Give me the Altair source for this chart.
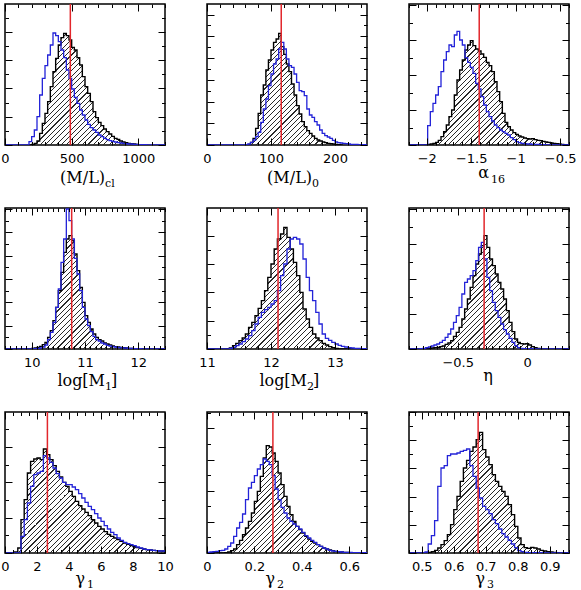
import math
import altair as alt
import pandas as pd

# Plot area of one panel (px) and the common height scale of the histograms
PW, PH = 160, 141
YTOP = 423

BLUE = "#2323d8"
RED = "#e2262b"
SANS = "DejaVu Sans"
SERIF = "DejaVu Serif"

# ---------------------------------------------------------------- data
# Each histogram: first bin edge, bin width, counts per bin.
# (M/L)_cl
mlcl_domain = [0, 1200]
mlcl_best = 490
mlcl_bin = 20
mlcl_black_start = 180
mlcl_black = [0, 2, 5, 12, 35, 65, 95, 130, 175, 220, 260, 300, 322, 335, 328, 315, 293, 285,
              262, 240, 205, 175, 155, 130, 100, 82, 68, 58, 48, 40, 33, 26, 20, 17, 12, 9, 7,
              5, 4, 3, 2, 1, 1, 0]
mlcl_blue_start = 0
mlcl_blue = [0, 0, 0, 0, 0, 0, 0, 0, 0, 10, 25, 45, 85, 150, 200, 238, 270, 300, 336, 328, 310,
             285, 262, 225, 200, 168, 143, 125, 105, 90, 75, 62, 52, 45, 38, 30, 25, 20, 16, 13,
             11, 9, 7, 6, 5, 4, 3, 3, 2, 2, 1, 1, 1, 0, 0, 0, 0, 0, 0, 0]

# (M/L)_0
ml0_domain = [0, 250]
ml0_best = 116
ml0_bin = 4
ml0_black_start = 60
ml0_black = [0, 2, 8, 20, 50, 95, 150, 180, 225, 255, 285, 308, 318, 335, 295, 272, 243, 220,
             183, 150, 118, 93, 70, 55, 43, 35, 27, 20, 15, 12, 9, 7, 5, 4, 3, 2, 1, 0]
ml0_blue_start = 0
ml0_blue = [0, 0, 0, 0, 0, 0, 0, 0, 0, 0, 0, 0, 0, 0, 0, 1, 3, 8, 15, 25, 38, 68, 108, 138,
            178, 213, 243, 258, 288, 308, 288, 258, 238, 233, 213, 188, 163, 160, 148, 108, 90,
            83, 70, 60, 45, 35, 28, 24, 20, 14, 9, 7, 6, 5, 4, 3, 2, 2, 2, 1, 1, 1, 0]

# alpha_16
a16_domain = [-2.2, -0.4]
a16_best = -1.41
a16_bin = 0.03
a16_black_start = -2.2
a16_black = [0, 0, 0, 0, 0, 0, 1, 2, 3, 5, 8, 14, 25, 40, 60, 85, 105, 150, 195, 225, 255,
             285, 300, 313, 298, 288, 282, 273, 263, 248, 238, 220, 190, 160, 130, 95, 68, 55,
             45, 37, 32, 27, 24, 21, 19, 18, 19, 16, 14, 13, 11, 9, 8, 6, 5, 4, 3, 2, 1, 0]
a16_blue_start = -2.2
a16_blue = [0, 0, 0, 0, 0, 0, 0, 58, 100, 125, 150, 175, 220, 255, 280, 300, 295, 330, 341,
            315, 300, 262, 248, 233, 215, 185, 168, 145, 120, 100, 85, 72, 60, 52, 45, 40, 35,
            30, 22, 16, 10, 7, 5, 4, 3, 3, 2, 2, 2, 1, 1, 0, 0, 0, 0, 0, 0, 0, 0, 0]

# log[M_1]
m1_domain = [9.5, 12.5]
m1_best = 10.75
m1_bin = 0.05
m1_black_start = 9.5
m1_black = [0, 0, 0, 0, 0, 0, 0, 0, 0, 1, 2, 3, 5, 8, 13, 20, 35, 55, 85, 125, 175, 230, 290,
            330, 340, 325, 285, 235, 185, 140, 100, 80, 60, 45, 35, 28, 24, 18, 15, 12, 9, 7, 6,
            5, 4, 3, 2, 2, 1, 1, 0, 0, 0, 0, 0, 0, 0, 0, 0, 0]
m1_blue_start = 9.5
m1_blue = [0, 0, 0, 0, 0, 0, 0, 0, 0, 0, 0, 1, 2, 3, 6, 12, 28, 50, 80, 125, 180, 260, 330,
           420, 385, 330, 272, 225, 175, 125, 90, 70, 52, 38, 28, 24, 18, 15, 11, 9, 7, 6, 5, 4,
           3, 3, 2, 2, 1, 1, 1, 0, 0, 0, 0, 0, 0, 0, 0, 0]

# log[M_2]
m2_domain = [11, 13.5]
m2_best = 12.11
m2_bin = 0.05
m2_black_start = 11
m2_black = [0, 0, 0, 0, 0, 0, 1, 3, 10, 17, 25, 33, 45, 65, 80, 100, 122, 145, 175, 215, 255,
            300, 330, 345, 365, 335, 300, 260, 220, 170, 120, 90, 65, 45, 33, 25, 17, 12, 7, 4,
            2, 0, 0, 0, 0, 0, 0, 0, 0, 0]
m2_blue_start = 11
m2_blue = [0, 0, 0, 0, 0, 0, 0, 2, 5, 10, 15, 22, 30, 40, 55, 75, 95, 110, 118, 125, 135, 145,
           175, 220, 255, 300, 330, 335, 330, 315, 270, 215, 175, 145, 110, 75, 45, 32, 26, 20,
           15, 11, 8, 6, 4, 3, 2, 2, 1, 1]

# eta
eta_domain = [-0.85, 0.3]
eta_best = -0.31
eta_bin = 0.02
eta_black_start = -0.85
eta_black = [0, 0, 0, 0, 0, 0, 1, 2, 3, 4, 5, 7, 9, 14, 18, 25, 38, 50, 65, 90, 120, 150, 185,
             220, 255, 285, 310, 340, 305, 270, 250, 225, 200, 180, 150, 115, 80, 52, 30, 20,
             16, 15, 16, 12, 7, 4, 2, 1, 0, 0, 0, 0, 0, 0, 0, 0, 0, 0]
eta_blue_start = -0.85
eta_blue = [0, 0, 0, 0, 1, 2, 4, 6, 9, 12, 15, 20, 26, 35, 45, 60, 80, 100, 125, 165, 200, 210,
            220, 235, 265, 305, 320, 270, 215, 175, 140, 115, 95, 75, 58, 45, 32, 20, 10, 4, 2,
            1, 1, 1, 1, 0, 0, 0, 0, 0, 0, 0, 0, 0, 0, 0, 0, 0]

# gamma_1
g1_domain = [0, 10]
g1_best = 2.65
g1_bin = 0.2
g1_black_start = 0
g1_black = [0, 0, 0, 3, 15, 100, 160, 240, 275, 282, 285, 280, 312, 295, 280, 262, 245, 228,
            212, 200, 185, 170, 155, 142, 132, 122, 112, 100, 90, 80, 72, 64, 56, 50, 45, 40,
            35, 30, 26, 22, 19, 16, 14, 12, 10, 9, 8, 7, 6, 6]
g1_blue_start = 0
g1_blue = [0, 0, 0, 0, 0, 50, 100, 150, 200, 235, 240, 245, 292, 285, 272, 255, 238, 225, 212,
           205, 205, 198, 190, 178, 165, 152, 140, 130, 118, 105, 95, 82, 72, 62, 55, 45, 38, 32,
           28, 25, 22, 18, 15, 12, 10, 9, 8, 7, 6, 6]

# gamma_2
g2_domain = [0, 0.675]
g2_best = 0.278
g2_bin = 0.0125
g2_black_start = 0
g2_black = [0, 0, 0, 0, 0, 0, 1, 3, 7, 12, 25, 38, 55, 75, 95, 120, 155, 185, 230, 285, 322,
            318, 300, 275, 240, 205, 170, 140, 115, 95, 80, 70, 60, 50, 42, 35, 30, 25, 20, 15,
            12, 9, 7, 5, 4, 3, 2, 2, 1, 0, 0, 0, 0, 0]
g2_blue_start = 0
g2_blue = [2, 3, 4, 5, 7, 8, 12, 20, 30, 50, 75, 92, 117, 160, 195, 212, 232, 252, 265, 282,
           275, 265, 232, 192, 160, 137, 120, 105, 95, 87, 80, 72, 62, 52, 45, 38, 32, 25, 20,
           15, 12, 8, 6, 5, 4, 3, 2, 2, 2, 1, 1, 1, 1, 1]

# gamma_3
g3_domain = [0.46, 0.96]
g3_best = 0.676
g3_bin = 0.01
g3_black_start = 0.46
g3_black = [0, 0, 0, 0, 0, 1, 2, 4, 8, 15, 25, 37, 55, 85, 130, 170, 215, 255, 278, 305, 318,
            340, 362, 310, 288, 265, 235, 215, 200, 185, 170, 145, 115, 80, 45, 25, 16, 14, 17,
            15, 12, 8, 6, 4, 3, 2, 1, 0, 0, 0]
g3_blue_start = 0.46
g3_blue = [0, 0, 0, 0, 0, 3, 27, 52, 97, 200, 255, 262, 292, 297, 297, 300, 305, 308, 312, 262,
           230, 195, 165, 140, 130, 118, 100, 88, 72, 58, 48, 38, 27, 16, 7, 4, 2, 1, 1, 1, 1, 1,
           0, 0, 0, 0, 0, 0, 0, 0]

# ---------------------------------------------------------------- axes / titles
# x: labelled major step, minor step; y: minor tick step (major every second one)
AXES = [
    dict(major=500, minor=100, ystep=42.4),
    dict(major=100, minor=20, ystep=32.6),
    dict(major=0.5, minor=0.1, ystep=52.5),
    dict(major=1, minor=0.1, ystep=35.0),
    dict(major=1, minor=0.2, ystep=42.5),
    dict(major=0.5, minor=0.05, ystep=52.5),
    dict(major=2, minor=0.5, ystep=53.0),
    dict(major=0.2, minor=0.05, ystep=46.7),
    dict(major=0.1, minor=0.02, ystep=42.3),
]

# axis titles: (text, align, x within panel, baseline below plot, font size)
TITLES = [
    [("(M/L)", "right", 100, 38, 16), ("cl", "left", 100, 42, 11)],
    [("(M/L)", "right", 105, 38, 16), ("0", "left", 105, 42, 11)],
    [("α", "right", 80, 33, 16), ("16", "left", 82, 38, 11)],
    [("log[M", "right", 100, 37, 16), ("1", "left", 100, 41, 11), ("]", "left", 106, 37, 16)],
    [("log[M", "right", 100, 37, 16), ("2", "left", 100, 41, 11), ("]", "left", 106, 37, 16)],
    [("η", "center", 79, 32, 16)],
    [("γ", "right", 80, 31, 16), ("1", "left", 82, 35, 11)],
    [("γ", "right", 68, 31, 16), ("2", "left", 70, 35, 11)],
    [("γ", "right", 76, 31, 16), ("3", "left", 78, 35, 11)],
]

PANELS = [
    (mlcl_domain, mlcl_best, mlcl_bin, mlcl_black_start, mlcl_black, mlcl_blue_start, mlcl_blue),
    (ml0_domain, ml0_best, ml0_bin, ml0_black_start, ml0_black, ml0_blue_start, ml0_blue),
    (a16_domain, a16_best, a16_bin, a16_black_start, a16_black, a16_blue_start, a16_blue),
    (m1_domain, m1_best, m1_bin, m1_black_start, m1_black, m1_blue_start, m1_blue),
    (m2_domain, m2_best, m2_bin, m2_black_start, m2_black, m2_blue_start, m2_blue),
    (eta_domain, eta_best, eta_bin, eta_black_start, eta_black, eta_blue_start, eta_blue),
    (g1_domain, g1_best, g1_bin, g1_black_start, g1_black, g1_blue_start, g1_blue),
    (g2_domain, g2_best, g2_bin, g2_black_start, g2_black, g2_blue_start, g2_blue),
    (g3_domain, g3_best, g3_bin, g3_black_start, g3_black, g3_blue_start, g3_blue),
]


def steps(start, width, counts):
    """Bin edges with the count of the bin that starts there (for step-after)."""
    xs = [round(start + i * width, 10) for i in range(len(counts) + 1)]
    ys = list(counts) + [counts[-1]]
    return pd.DataFrame({"x": xs, "y": ys})


def ticks_in(dom, step):
    lo = math.ceil(dom[0] / step - 1e-9)
    hi = math.floor(dom[1] / step + 1e-9)
    return [round(k * step, 10) for k in range(lo, hi + 1)]


def hatch(df, dom, spacing=5.3, frac=0.22, ink="#2a2a2a"):
    """Diagonal hatching as a striped gradient over the area's bounding box."""
    wp = (df.x.max() - df.x.min()) / (dom[1] - dom[0]) * PW
    hp = df.y.max() / YTOP * PH
    k = (wp + hp) / (wp ** 2 + hp ** 2)
    n = (wp + hp) / spacing
    clear = "rgba(0,0,0,0)"
    stops = []
    i = 0
    while i / n < 1:
        a = i / n
        b = min((i + frac) / n, 1.0)
        stops += [alt.GradientStop(offset=a, color=clear), alt.GradientStop(offset=a, color=ink),
                  alt.GradientStop(offset=b, color=ink), alt.GradientStop(offset=b, color=clear)]
        i += 1
    return alt.LinearGradient(gradient="linear", stops=stops, x1=0, y1=0,
                              x2=float(k * wp), y2=float(k * hp))


def tick_size(major, big, small):
    return {"condition": {"test": f"abs(datum.value / {major} - round(datum.value / {major})) < 1e-6",
                          "value": big}, "value": small}


def inner_axis(orient, offset, values, major, big=7, small=3.5):
    return alt.Axis(orient=orient, offset=offset, values=values, labels=False, domain=False,
                    grid=False, title=None, tickColor="black", tickWidth=1, zindex=1,
                    tickSize=tick_size(major, big, small))


def panel(spec, ax, titles):
    dom, best, width, bstart, bcounts, ustart, ucounts = spec
    xs = alt.Scale(domain=dom, nice=False, zero=False)
    ys = alt.Scale(domain=[0, YTOP], nice=False, zero=False)
    black = steps(bstart, width, bcounts)
    blue = steps(ustart, width, ucounts)

    xmaj = ticks_in(dom, ax["major"])
    xall = ticks_in(dom, ax["minor"])
    yall = ticks_in([0, YTOP], ax["ystep"])
    ymaj = 2 * ax["ystep"]

    label_axis = alt.Axis(orient="bottom", values=xmaj, format="~r", ticks=False, domain=False,
                          grid=False, title=None, labelFlush=False, labelOverlap=False,
                          labelPadding=7, labelFont=SANS, labelFontSize=13, labelColor="black")

    area = alt.Chart(black).mark_area(interpolate="step-after", fill=hatch(black, dom),
                                      opacity=1, clip=True).encode(
        x=alt.X("x:Q", scale=xs, axis=label_axis),
        y=alt.Y("y:Q", scale=ys, axis=inner_axis("right", -PW, yall, ymaj)),
    )
    outline = alt.Chart(black).mark_line(interpolate="step-after", color="black",
                                         strokeWidth=1.4, clip=True).encode(
        x=alt.X("x:Q", scale=xs, axis=inner_axis("top", -PH, xall, ax["major"])),
        y=alt.Y("y:Q", scale=ys, axis=inner_axis("left", -PW, yall, ymaj)),
    )
    blue_line = alt.Chart(blue).mark_line(interpolate="step-after", color=BLUE,
                                          strokeWidth=1.3, clip=True).encode(
        x=alt.X("x:Q", scale=xs, axis=inner_axis("bottom", -PH, xall, ax["major"])),
        y=alt.Y("y:Q", scale=ys, axis=None),
    )
    best_rule = alt.Chart(pd.DataFrame({"x": [best]})).mark_rule(color=RED, strokeWidth=1.5).encode(
        x=alt.X("x:Q", scale=xs, axis=None),
    )
    layers = [area, outline, blue_line, best_rule]
    for text, align, tx, ty, size in titles:
        layers.append(
            alt.Chart(pd.DataFrame({"t": [text]})).mark_text(
                align=align, baseline="alphabetic", font=SERIF, fontSize=size, color="black"
            ).encode(x=alt.value(tx), y=alt.value(PH + ty), text="t:N")
        )
    return alt.layer(*layers).resolve_axis(x="independent", y="independent").properties(
        width=PW, height=PH)


panels = [panel(PANELS[i], AXES[i], TITLES[i]) for i in range(9)]
chart = alt.concat(*panels, columns=3, spacing={"row": 63, "column": 42}, bounds="flush").properties(
    padding={"left": 0, "top": 2, "right": 0, "bottom": 0},
    background="white",
).configure_view(stroke="black", strokeWidth=1.5)

chart.save("out.html", embed_options={"renderer": "svg", "actions": False})
